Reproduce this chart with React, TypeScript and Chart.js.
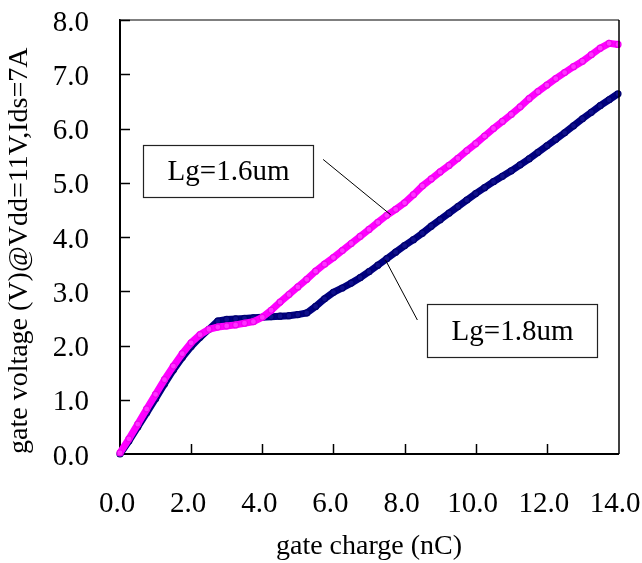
import React, { useEffect, useRef } from "react";
import { Chart, registerables } from "chart.js";

Chart.register(...registerables);

// gate charge (nC)
const charge = [
  0, 0.25, 0.5, 0.75, 1.0, 1.25, 1.5, 1.75, 2.0, 2.25, 2.5, 2.75, 3.0, 3.25, 3.5, 3.75,
  4.0, 4.25, 4.5, 4.75, 5.0, 5.25, 5.5, 5.75, 6.0, 6.25, 6.5, 6.75, 7.0, 7.25, 7.5, 7.75,
  8.0, 8.25, 8.5, 8.75, 9.0, 9.25, 9.5, 9.75, 10.0, 10.25, 10.5, 10.75, 11.0, 11.25, 11.5,
  11.75, 12.0, 12.25, 12.5, 12.75, 13.0, 13.25, 13.5, 13.75, 14.0,
];

// gate voltage (V), Lg = 1.6um
const vgLg16 = [
  0.02, 0.28, 0.55, 0.83, 1.1, 1.37, 1.62, 1.85, 2.05, 2.2, 2.3, 2.34, 2.36, 2.38, 2.41, 2.44,
  2.52, 2.65, 2.8, 2.94, 3.08, 3.22, 3.37, 3.5, 3.62, 3.75, 3.88, 4.01, 4.14, 4.27, 4.4, 4.51,
  4.63, 4.78, 4.94, 5.07, 5.2, 5.32, 5.45, 5.59, 5.72, 5.86, 6.0, 6.13, 6.26, 6.4, 6.55,
  6.68, 6.8, 6.92, 7.03, 7.14, 7.24, 7.36, 7.48, 7.57, 7.55,
];

// gate voltage (V), Lg = 1.8um
const vgLg18 = [
  0.0, 0.24, 0.5, 0.76, 1.02, 1.29, 1.55, 1.78, 1.98, 2.15, 2.3, 2.45, 2.48, 2.49, 2.5, 2.51,
  2.52, 2.53, 2.54, 2.55, 2.57, 2.6, 2.72, 2.86, 2.98, 3.06, 3.15, 3.25, 3.36, 3.48, 3.6, 3.72,
  3.84, 3.95, 4.07, 4.2, 4.32, 4.44, 4.56, 4.68, 4.8, 4.91, 5.02, 5.12, 5.22, 5.33, 5.44,
  5.56, 5.68, 5.8, 5.92, 6.05, 6.18, 6.3, 6.42, 6.53, 6.64,
];

const seriesLabels = ["Lg=1.6um", "Lg=1.8um"];
const xTicks = [0, 2, 4, 6, 8, 10, 12, 14];
const yTicks = [0, 1, 2, 3, 4, 5, 6, 7, 8];
const xTitle = "gate charge (nC)";
const yTitle = "gate voltage (V)@Vdd=11V,Ids=7A";

// callout boxes and leader lines, in data coordinates
const calloutBoxes = [
  [0.65, 5.7, 5.43, 4.74],
  [8.62, 2.76, 13.4, 1.79],
];
const calloutLines = [
  [5.71, 5.43, 7.61, 4.41],
  [7.46, 3.58, 8.36, 2.47],
];

const FONT = "'Liberation Serif', 'Times New Roman', Times, serif";

const framePlugin = {
  id: "frame",
  afterDatasetsDraw(chart: any) {
    const { ctx, chartArea, scales } = chart;
    const { left, right, top, bottom } = chartArea;
    const xs = scales.x;
    const ys = scales.y;
    ctx.save();
    // top / right frame
    ctx.lineWidth = 1.5;
    ctx.strokeStyle = "#555";
    ctx.beginPath();
    ctx.moveTo(left, top);
    ctx.lineTo(right + 1, top);
    ctx.stroke();
    ctx.strokeStyle = "#000";
    ctx.beginPath();
    ctx.moveTo(right + 1, top);
    ctx.lineTo(right + 1, bottom);
    ctx.stroke();
    // inward tick marks
    ctx.lineWidth = 1.5;
    ctx.strokeStyle = "#000";
    xTicks.forEach((v) => {
      if (v === xTicks[0] || v === xTicks[xTicks.length - 1]) return;
      const px = Math.round(xs.getPixelForValue(v)) + 0.5;
      ctx.beginPath();
      ctx.moveTo(px, bottom);
      ctx.lineTo(px, bottom - 10);
      ctx.stroke();
    });
    yTicks.forEach((v) => {
      if (v === yTicks[0]) return;
      const py = Math.round(ys.getPixelForValue(v)) + 0.5;
      ctx.beginPath();
      ctx.moveTo(left, py);
      ctx.lineTo(left + 10, py);
      ctx.stroke();
    });
    // leader lines
    ctx.lineWidth = 1;
    ctx.strokeStyle = "#000";
    calloutLines.forEach(([x1, y1, x2, y2]) => {
      ctx.beginPath();
      ctx.moveTo(xs.getPixelForValue(x1), ys.getPixelForValue(y1));
      ctx.lineTo(xs.getPixelForValue(x2), ys.getPixelForValue(y2));
      ctx.stroke();
    });
    // boxes with labels
    ctx.font = `29px ${FONT}`;
    ctx.textAlign = "center";
    ctx.textBaseline = "middle";
    calloutBoxes.forEach(([x1, y1, x2, y2], i) => {
      const l = Math.round(xs.getPixelForValue(x1)) + 0.5;
      const r = Math.round(xs.getPixelForValue(x2)) + 0.5;
      const t = Math.round(ys.getPixelForValue(y1)) + 0.5;
      const b = Math.round(ys.getPixelForValue(y2)) + 0.5;
      ctx.fillStyle = "#fff";
      ctx.fillRect(l, t, r - l, b - t);
      ctx.strokeStyle = "#222";
      ctx.lineWidth = 1.2;
      ctx.strokeRect(l, t, r - l, b - t);
      ctx.fillStyle = "#000";
      ctx.fillText(seriesLabels[i], (l + r) / 2, (t + b) / 2 + 1);
    });
    ctx.restore();
  },
};

const noPad = (s: any) => {
  s.paddingLeft = 0;
  s.paddingRight = 0;
  s.paddingTop = 0;
  s.paddingBottom = 0;
};

export default function App() {
  const canvasRef = useRef<HTMLCanvasElement | null>(null);

  useEffect(() => {
    if (!canvasRef.current) return;
    const mk = (vals: number[]) => charge.map((q, i) => ({ x: q, y: vals[i] }));
    const chart = new Chart(canvasRef.current, {
      type: "line",
      data: {
        datasets: [
          {
            label: seriesLabels[0],
            data: mk(vgLg16),
            borderColor: "#FF00FF",
            backgroundColor: "#FF00FF",
            borderWidth: 7,
            pointRadius: 3,
            pointBorderWidth: 1.2,
            pointBackgroundColor: "#FF33FF",
            pointBorderColor: "#F000F0",
            tension: 0,
            fill: false,
            clip: 4,
          },
          {
            label: seriesLabels[1],
            data: mk(vgLg18),
            borderColor: "#000080",
            backgroundColor: "#000080",
            borderWidth: 7,
            pointRadius: 3,
            pointBorderWidth: 1.2,
            pointBackgroundColor: "#10108C",
            pointBorderColor: "#000070",
            tension: 0,
            fill: false,
            clip: 4,
          },
        ],
      },
      options: {
        animation: false,
        responsive: true,
        maintainAspectRatio: false,
        layout: { padding: { top: 20, right: 24, left: 0, bottom: 0 } },
        plugins: {
          legend: { display: false },
          tooltip: { enabled: false },
        },
        scales: {
          x: {
            type: "linear",
            min: 0,
            max: 14,
            afterFit: (s: any) => {
              s.height = 109;
              noPad(s);
            },
            afterBuildTicks: (s: any) => {
              s.ticks = xTicks.map((v) => ({ value: v }));
            },
            grid: { display: false, drawTicks: false },
            border: { display: true, color: "#000", width: 2 },
            ticks: {
              padding: 33,
              labelOffset: -3,
              color: "#000",
              font: { family: FONT, size: 29 },
              maxRotation: 0,
              callback: (v: any) => Number(v).toFixed(1),
            },
            title: {
              display: true,
              text: xTitle,
              color: "#000",
              font: { family: FONT, size: 28 },
              padding: { top: 0, bottom: 0 },
            },
          },
          y: {
            type: "linear",
            min: 0,
            max: 8,
            afterFit: (s: any) => {
              s.width = 120;
              noPad(s);
            },
            afterBuildTicks: (s: any) => {
              s.ticks = yTicks.map((v) => ({ value: v }));
            },
            grid: { display: false, drawTicks: false },
            border: { display: true, color: "#000", width: 2 },
            ticks: {
              padding: 31,
              labelOffset: 3,
              color: "#000",
              font: { family: FONT, size: 29 },
              callback: (v: any) => Number(v).toFixed(1),
            },
            title: {
              display: true,
              text: yTitle,
              align: "start",
              color: "#000",
              font: { family: FONT, size: 28 },
              padding: { top: 3, bottom: 0 },
            },
          },
        },
      },
      plugins: [framePlugin],
    } as any);
    return () => chart.destroy();
  }, []);

  return (
    <div style={{ position: "fixed", left: 0, top: 0, width: 642, height: 563, background: "#fff" }}>
      <canvas ref={canvasRef} />
    </div>
  );
}
